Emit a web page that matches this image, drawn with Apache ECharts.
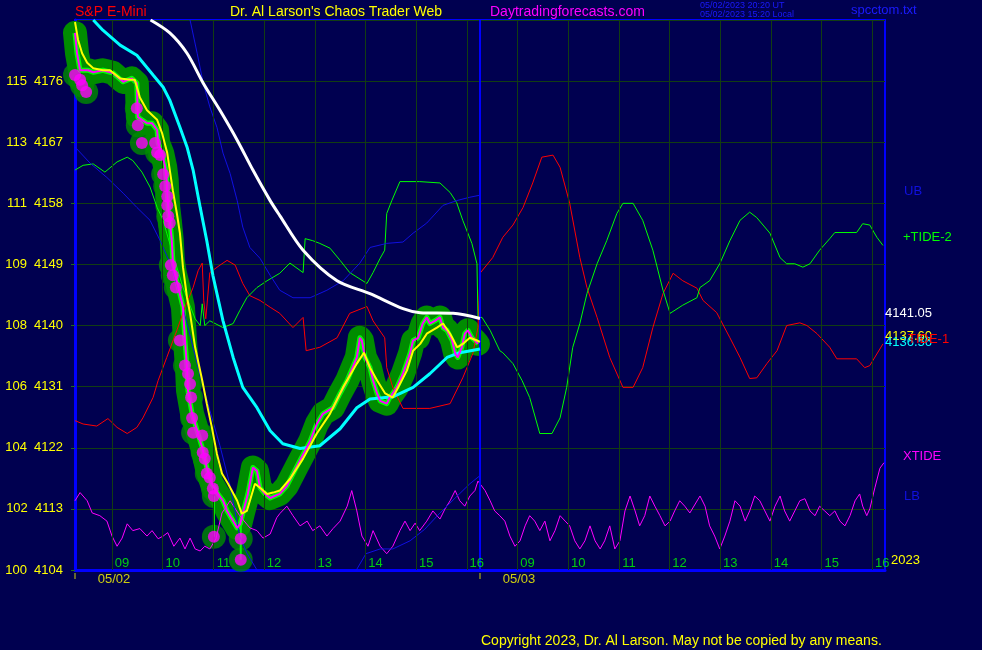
<!DOCTYPE html>
<html><head><meta charset="utf-8">
<script src="https://cdn.jsdelivr.net/npm/echarts@6/dist/echarts.min.js"></script>
<style>html,body{margin:0;padding:0;background:#000050;}#c{width:982px;height:650px;}</style>
</head><body><div id="c"></div>
<script>
// ---- axis data ----
const hourTicks = [9,10,11,12,13,14,15,16,17,18,19,20,21,22,23,24];
const hourLabels = ['09','10','11','12','13','14','15','16','09','10','11','12','13','14','15','16'];
const dayStarts = [8.27, 16.26];
const dayLabels = ['05/02','05/03'];
const priceMin = 4104, priceMax = 4185, priceStep = 9;
const leftScale = [100,102,104,106,108,109,111,113,115];

// ---- series data: [decimal hour, price] ----
const whiteMA = [[9.76,4185.0],[10.14,4183.1],[10.48,4180.1],[10.80,4175.7],[11.13,4171.7],[11.47,4167.3],[11.78,4162.9],[12.12,4158.4],[12.31,4156.2],[12.77,4151.1],[13.44,4146.6],[14.09,4144.7],[14.74,4142.5],[15.08,4141.9],[15.73,4141.8],[16.26,4141.05]];
const cyanMA = [[8.63,4185.0],[8.82,4183.5],[9.16,4181.3],[9.49,4179.8],[9.81,4176.9],[10.01,4175.1],[10.14,4173.2],[10.34,4169.2],[10.48,4166.3],[10.60,4162.9],[10.74,4157.4],[10.87,4152.5],[10.99,4147.4],[11.19,4140.7],[11.39,4135.3],[11.58,4130.9],[11.86,4127.9],[12.12,4124.5],[12.37,4122.6],[12.71,4121.9],[13.10,4122.3],[13.50,4124.8],[13.83,4127.9],[14.09,4129.2],[14.54,4129.5],[14.94,4130.9],[15.27,4132.9],[15.61,4135.3],[15.86,4136.0],[16.26,4136.56]];
const yellowMA = [[8.27,4184.7],[8.33,4182.1],[8.41,4180.1],[8.51,4178.7],[8.63,4177.9],[8.82,4177.6],[8.96,4177.6],[9.16,4176.4],[9.36,4176.2],[9.45,4176.2],[9.55,4173.6],[9.69,4171.7],[9.89,4170.3],[9.99,4168.3],[10.09,4165.4],[10.14,4162.9],[10.20,4159.9],[10.28,4156.5],[10.34,4153.6],[10.40,4148.6],[10.48,4144.1],[10.54,4141.8],[10.64,4136.8],[10.78,4131.9],[10.87,4128.5],[10.97,4125.0],[11.07,4121.1],[11.17,4118.2],[11.29,4116.7],[11.47,4114.2],[11.56,4112.3],[11.66,4112.7],[11.76,4115.2],[11.82,4116.7],[11.92,4116.1],[12.06,4115.2],[12.18,4115.4],[12.31,4115.7],[12.51,4117.4],[12.77,4120.4],[13.04,4124.1],[13.30,4127.0],[13.56,4130.9],[13.83,4134.4],[13.97,4136.0],[14.09,4133.8],[14.23,4131.9],[14.39,4130.0],[14.54,4129.4],[14.68,4131.4],[14.82,4133.4],[14.94,4136.3],[15.08,4137.3],[15.21,4138.8],[15.41,4139.7],[15.53,4140.3],[15.67,4138.8],[15.81,4136.8],[15.92,4137.3],[16.06,4138.2],[16.20,4137.8],[16.26,4137.6]];
const priceLine = [[8.27,4183.1],[8.31,4180.1],[8.37,4177.6],[8.53,4177.6],[8.63,4177.3],[8.82,4177.6],[9.02,4177.2],[9.22,4175.9],[9.39,4176.4],[9.49,4175.7],[9.50,4173.2],[9.51,4170.7],[9.69,4169.8],[9.79,4169.8],[9.89,4168.8],[9.91,4166.9],[9.99,4165.4],[10.05,4163.3],[10.08,4161.4],[10.09,4159.5],[10.11,4157.4],[10.14,4155.5],[10.18,4152.5],[10.20,4149.6],[10.24,4147.7],[10.30,4145.9],[10.40,4142.7],[10.44,4137.8],[10.48,4133.8],[10.50,4130.4],[10.58,4127.0],[10.68,4124.5],[10.78,4122.0],[10.87,4119.1],[10.97,4116.7],[11.09,4115.2],[11.19,4114.2],[11.27,4112.7],[11.39,4111.2],[11.47,4110.2],[11.53,4110.8],[11.58,4112.3],[11.68,4115.2],[11.78,4119.1],[11.86,4118.6],[11.92,4116.1],[12.02,4115.2],[12.12,4114.6],[12.31,4115.2],[12.45,4116.4],[12.65,4119.3],[12.91,4123.0],[13.04,4125.5],[13.16,4127.0],[13.36,4127.9],[13.50,4130.0],[13.64,4131.9],[13.83,4135.3],[13.89,4138.2],[13.93,4137.8],[13.99,4135.3],[14.09,4133.8],[14.15,4131.9],[14.23,4130.0],[14.29,4128.9],[14.42,4128.5],[14.48,4129.4],[14.62,4130.9],[14.74,4132.9],[14.88,4135.9],[14.94,4137.8],[15.04,4138.2],[15.13,4140.3],[15.21,4141.2],[15.27,4140.3],[15.37,4140.7],[15.47,4141.2],[15.53,4139.7],[15.61,4139.3],[15.71,4137.8],[15.77,4135.9],[15.82,4135.3],[15.90,4136.8],[15.96,4138.8],[16.02,4139.3],[16.10,4138.2],[16.16,4137.8],[16.22,4137.3]];
const barRanges = [[11.01,4114.9,4108.9],[11.54,4111.0,4105.5]];
const dots = [[8.27,4176.9],[8.37,4176.2],[8.41,4175.4],[8.49,4174.4],[9.49,4172.0],[9.51,4169.5],[9.59,4166.9],[9.85,4166.9],[9.89,4165.5],[9.95,4165.1],[10.01,4162.3],[10.05,4160.5],[10.09,4159.0],[10.09,4157.7],[10.11,4156.1],[10.14,4155.1],[10.16,4148.9],[10.20,4147.4],[10.26,4145.6],[10.34,4137.8],[10.44,4134.1],[10.50,4132.9],[10.54,4131.4],[10.56,4129.4],[10.58,4126.4],[10.60,4124.2],[10.78,4123.8],[10.79,4121.3],[10.83,4120.4],[10.87,4118.2],[10.93,4117.6],[10.99,4116.0],[11.01,4114.9],[11.01,4108.9],[11.54,4108.6],[11.54,4105.5]];
const upperBand = [[10.54,4185.0],[10.68,4180.1],[10.80,4175.7],[10.93,4172.2],[11.07,4169.2],[11.19,4165.4],[11.33,4162.4],[11.47,4158.4],[11.58,4154.5],[11.72,4151.5],[11.92,4149.9],[12.12,4147.4],[12.31,4145.2],[12.57,4144.1],[12.91,4144.1],[13.24,4145.2],[13.56,4146.6],[13.89,4149.2],[14.09,4151.5],[14.42,4152.1],[14.74,4152.3],[14.94,4153.6],[15.21,4155.1],[15.53,4157.7],[15.80,4158.4],[16.06,4158.9],[16.26,4159.2]];
const lowerBand = [[8.27,4166.3],[8.57,4163.9],[8.90,4161.8],[9.22,4159.5],[9.49,4157.4],[9.75,4155.5],[9.95,4152.5],[10.14,4149.3],[10.34,4144.4],[10.54,4138.5],[10.74,4132.6],[10.93,4127.5],[11.13,4122.3],[11.33,4116.4],[11.52,4109.0],[11.66,4106.5],[11.86,4104.0],[12.71,4099.4],[13.50,4100.0],[13.75,4103.1],[14.01,4106.4],[14.29,4107.1],[14.54,4107.1],[14.88,4108.3],[15.17,4110.0],[15.47,4112.4],[15.77,4114.6],[16.06,4116.7],[16.26,4117.9]];
const tide1 = [[8.27,4126.0],[8.43,4125.5],[8.70,4125.2],[8.92,4126.3],[9.10,4125.0],[9.30,4124.1],[9.49,4125.0],[9.61,4126.4],[9.81,4129.4],[9.91,4131.9],[10.08,4135.3],[10.28,4139.3],[10.44,4142.7],[10.60,4145.6],[10.70,4148.1],[10.78,4149.2],[10.81,4143.7],[10.85,4141.0],[10.93,4147.8],[11.13,4148.9],[11.27,4149.6],[11.43,4148.9],[11.58,4146.2],[11.72,4144.4],[11.92,4143.7],[12.12,4142.7],[12.31,4141.8],[12.57,4139.7],[12.77,4141.2],[12.83,4136.3],[13.10,4136.8],[13.44,4138.2],[13.69,4141.8],[14.03,4142.8],[14.15,4140.7],[14.38,4138.2],[14.42,4133.8],[14.54,4130.9],[14.74,4127.8],[15.27,4127.8],[15.67,4128.5],[15.92,4132.3],[16.12,4135.9],[16.22,4139.7],[16.24,4143.7],[16.26,4147.7],[16.51,4150.0],[16.71,4153.0],[16.91,4154.8],[17.11,4157.4],[17.30,4161.0],[17.48,4164.8],[17.70,4165.1],[17.84,4163.3],[18.03,4158.0],[18.23,4150.0],[18.37,4145.6],[18.57,4141.2],[18.82,4135.3],[19.08,4130.9],[19.28,4130.9],[19.47,4133.8],[19.67,4139.7],[19.87,4144.7],[20.07,4147.7],[20.26,4146.6],[20.54,4145.5],[20.66,4143.7],[20.93,4141.9],[21.19,4138.2],[21.39,4135.3],[21.58,4132.2],[21.72,4132.3],[21.92,4134.4],[22.12,4136.3],[22.31,4140.0],[22.57,4140.4],[22.71,4140.0],[22.91,4138.8],[23.16,4136.8],[23.30,4135.1],[23.69,4135.1],[23.85,4133.8],[23.95,4134.1],[24.21,4137.3]];
const tide2 = [[8.27,4162.9],[8.43,4163.6],[8.63,4163.8],[8.86,4162.6],[9.10,4164.1],[9.30,4164.8],[9.41,4164.3],[9.59,4162.6],[9.75,4160.4],[9.89,4157.4],[10.01,4155.5],[10.08,4153.6],[10.24,4149.6],[10.40,4145.6],[10.64,4141.0],[10.74,4140.0],[10.78,4143.2],[10.83,4140.0],[10.93,4140.7],[11.19,4139.7],[11.39,4140.3],[11.52,4142.2],[11.66,4144.1],[11.86,4145.6],[12.06,4146.6],[12.31,4147.7],[12.51,4149.2],[12.77,4147.8],[12.81,4152.8],[12.96,4152.5],[13.10,4152.1],[13.30,4151.4],[13.50,4149.6],[13.69,4147.8],[14.03,4146.2],[14.15,4147.8],[14.29,4149.9],[14.38,4151.1],[14.42,4156.5],[14.52,4158.4],[14.68,4161.2],[15.07,4161.2],[15.47,4161.0],[15.67,4159.6],[15.80,4158.1],[15.92,4155.5],[16.10,4152.1],[16.20,4149.1],[16.22,4141.2],[16.30,4141.2],[16.46,4139.3],[16.65,4136.3],[16.71,4136.0],[16.91,4134.4],[17.09,4131.9],[17.24,4129.4],[17.44,4124.1],[17.68,4124.1],[17.84,4126.4],[17.97,4130.9],[18.09,4136.8],[18.23,4140.3],[18.37,4144.7],[18.57,4149.1],[18.76,4152.5],[18.96,4156.5],[19.08,4158.0],[19.28,4158.0],[19.47,4155.5],[19.67,4151.1],[19.87,4145.2],[20.01,4141.8],[20.26,4143.0],[20.54,4144.1],[20.60,4145.6],[20.79,4146.6],[20.99,4149.1],[21.19,4152.5],[21.39,4155.5],[21.58,4156.7],[21.72,4155.9],[21.98,4153.6],[22.18,4150.0],[22.31,4149.1],[22.47,4149.1],[22.63,4148.6],[22.77,4149.1],[22.96,4151.1],[23.16,4152.8],[23.26,4153.7],[23.69,4153.7],[23.81,4155.0],[23.95,4154.8],[24.09,4153.0],[24.21,4151.8]];
const xtide = [[8.27,4114.2],[8.37,4115.4],[8.51,4114.2],[8.61,4112.4],[8.76,4112.0],[8.90,4111.2],[9.00,4109.0],[9.10,4107.5],[9.20,4108.7],[9.30,4110.8],[9.41,4109.8],[9.55,4110.1],[9.69,4109.0],[9.79,4109.8],[9.91,4108.6],[10.01,4109.0],[10.10,4109.5],[10.22,4107.5],[10.34,4108.7],[10.44,4107.1],[10.54,4108.7],[10.64,4107.1],[10.74,4106.8],[10.83,4107.5],[10.93,4107.1],[11.05,4108.6],[11.17,4112.4],[11.33,4114.2],[11.52,4112.0],[11.72,4110.2],[11.86,4109.8],[11.98,4108.7],[12.12,4109.3],[12.25,4111.7],[12.31,4112.3],[12.45,4113.4],[12.57,4112.0],[12.71,4110.5],[12.85,4111.2],[12.96,4109.8],[13.10,4110.5],[13.24,4109.0],[13.36,4110.1],[13.50,4111.2],[13.64,4113.4],[13.73,4115.7],[13.83,4112.7],[13.93,4109.0],[14.05,4107.5],[14.15,4109.8],[14.29,4107.5],[14.42,4106.4],[14.54,4107.5],[14.68,4109.8],[14.78,4111.2],[14.88,4109.8],[14.98,4110.9],[15.07,4109.8],[15.21,4111.2],[15.33,4112.7],[15.47,4111.5],[15.57,4113.0],[15.67,4114.2],[15.77,4115.7],[15.86,4114.2],[15.96,4113.4],[16.06,4114.9],[16.16,4115.7],[16.22,4117.1],[16.36,4115.7],[16.46,4114.2],[16.55,4112.7],[16.65,4112.0],[16.75,4111.2],[16.85,4109.0],[16.95,4107.5],[17.05,4108.3],[17.15,4110.5],[17.24,4112.0],[17.34,4111.2],[17.44,4109.8],[17.54,4111.2],[17.64,4108.3],[17.74,4109.8],[17.84,4112.0],[17.94,4111.2],[18.03,4110.5],[18.13,4108.3],[18.23,4107.1],[18.33,4108.3],[18.43,4110.5],[18.53,4108.3],[18.63,4107.1],[18.72,4108.3],[18.82,4110.5],[18.92,4107.1],[19.02,4108.3],[19.12,4112.7],[19.22,4114.9],[19.32,4112.7],[19.41,4110.5],[19.51,4112.0],[19.61,4114.9],[19.71,4113.4],[19.81,4112.0],[19.91,4110.5],[20.01,4111.2],[20.10,4112.7],[20.20,4114.2],[20.30,4113.4],[20.40,4112.4],[20.60,4114.9],[20.70,4113.4],[20.79,4110.5],[20.89,4109.0],[20.99,4107.1],[21.09,4109.0],[21.19,4111.2],[21.29,4114.2],[21.39,4113.4],[21.49,4111.2],[21.58,4112.7],[21.68,4114.9],[21.78,4114.2],[21.88,4112.7],[21.98,4111.2],[22.08,4113.4],[22.18,4114.9],[22.27,4112.7],[22.37,4111.2],[22.47,4112.7],[22.57,4114.2],[22.67,4114.5],[22.77,4112.7],[22.87,4112.0],[22.96,4113.4],[23.06,4112.7],[23.16,4112.0],[23.26,4112.7],[23.36,4111.2],[23.46,4110.5],[23.56,4112.0],[23.66,4114.2],[23.75,4115.2],[23.81,4113.4],[23.89,4112.0],[23.95,4113.0],[24.05,4116.1],[24.15,4119.0],[24.23,4119.8]];

// ---- chart ----
const FONT = '"Liberation Sans", Arial, sans-serif';
const GRID = '#123d12';
const BLUE = '#0000ff';
const stems = [];
barRanges.forEach(r => { stems.push([r[0], r[1]], [r[0], r[2]], [r[0], '-']); });

function txt(text, left, top, fill, size) {
  return {type:'text', left:left, top:top, z:100,
    style:{text:text, fill:fill, font:(size||13)+'px ' + FONT}};
}
function line(data, color, width, z, extra) {
  return Object.assign({type:'line', data:data, showSymbol:false, symbol:'none', silent:true, z:z,
    lineStyle:{color:color, width:width}}, extra || {});
}

const chart = echarts.init(document.getElementById('c'));
chart.setOption({
  backgroundColor:'#000050',
  animation:false,
  grid:{left:75, top:20, width:810, height:550, show:true, borderColor:BLUE, borderWidth:2, backgroundColor:'transparent'},
  xAxis:{type:'value', min:8.27, max:24.25,
    axisLine:{show:true, onZero:false, lineStyle:{color:BLUE, width:3}},
    axisTick:{show:false}, axisLabel:{show:false}, splitLine:{show:false}},
  yAxis:{type:'value', min:priceMin, max:priceMax, interval:priceStep,
    axisLine:{show:true, onZero:false, lineStyle:{color:BLUE, width:3}},
    axisTick:{show:true, length:4, lineStyle:{color:'#1f6a1f'}},
    axisLabel:{color:'#ffff00', fontSize:13, fontFamily:FONT, margin:12, padding:[0,0,8,0], showMaxLabel:false,
      formatter:v => { const i = Math.round((v - priceMin) / priceStep); return leftScale[i] !== undefined ? leftScale[i] + '  ' + v : ''; }},
    splitLine:{show:true, lineStyle:{color:GRID, width:1}}},
  graphic:[
    txt('S&P E-Mini', 75, 5, '#ff0000', 14),
    txt("Dr. Al Larson's Chaos Trader Web", 230, 5, '#ffff00', 14),
    txt('Daytradingforecasts.com', 490, 5, '#ff00ff', 14),
    txt('05/02/2023 20:20 UT', 700, 1, '#1a1aff', 9),
    txt('05/02/2023 15:20 Local', 700, 10, '#1a1aff', 9),
    txt('spcctom.txt', 851, 4, '#1a1aff'),
    txt('UB', 904, 185, '#1010e0'),
    txt('+TIDE-2', 903, 231, '#00ff00'),
    txt('4141.05', 885, 307, '#ffffff'),
    txt('4137.60', 885, 330, '#ffff00'),
    txt('4136.56', 885, 336, '#00ffff'),
    txt('TIDE-1', 908, 333, '#ff0000'),
    txt('XTIDE', 903, 450, '#ff00ff'),
    txt('LB', 904, 490, '#1010e0'),
    txt('2023', 891, 554, '#ffff00'),
    txt('Copyright 2023, Dr. Al Larson. May not be copied by any means.', 481, 634, '#ffff00', 14)
  ],
  series:[
    {type:'line', data:[], z:1, silent:true,
      markLine:{silent:true, symbol:['none','none'], label:{show:false},
        lineStyle:{color:GRID, width:1, type:'solid'},
        data:hourTicks.map(h => ({xAxis:h}))}},
    line(priceLine, '#008c00', 24, 2, {clip:false, lineStyle:{color:'#008c00', width:24, cap:'round', join:'round'}}),
    {type:'scatter', data:dots, symbolSize:24, z:2, silent:true, clip:false, itemStyle:{color:'#008c00'}},
    line(priceLine, '#00ff00', 5, 3, {lineStyle:{color:'#00ff00', width:5, join:'round'}}),
    line(stems, '#00ff00', 2, 3, {connectNulls:false}),
    line(tide1, '#ff0000', 1, 4),
    line(tide2, '#00ff00', 1, 4),
    line(xtide, '#ff00ff', 1, 4),
    line(upperBand, '#1010e0', 1, 4),
    line(lowerBand, '#1010e0', 1, 4),
    line(cyanMA, '#00ffff', 3, 5),
    line(whiteMA, '#ffffff', 3, 5, {smooth:0.3}),
    {type:'line', data:[], z:5, silent:true,
      markLine:{silent:true, symbol:['none','none'], label:{show:false},
        lineStyle:{color:BLUE, width:2, type:'solid'},
        data:[{xAxis:dayStarts[1]}]}},
    line(priceLine, '#ff00ff', 2, 6),
    line(yellowMA, '#ffff00', 2, 7),
    {type:'scatter', data:dots, symbolSize:12, z:8, silent:true, clip:false, itemStyle:{color:'#ff00ff'}},
    {type:'scatter', data:hourTicks.map(h => [h, priceMin]), symbolSize:1, z:9, silent:true, clip:false,
      itemStyle:{color:'transparent'},
      label:{show:true, position:'inside', offset:[10,-7], color:'#00ff00', fontSize:13, fontFamily:FONT,
        formatter:p => hourLabels[p.dataIndex]}},
    {type:'scatter', data:dayStarts.map(d => [d, priceMin]), symbol:'rect', symbolSize:[1,6], symbolOffset:[0,6],
      z:9, silent:true, clip:false, itemStyle:{color:'#ffff00'}},
    {type:'scatter', data:dayStarts.map(d => [d, priceMin]), symbolSize:1, z:9, silent:true, clip:false,
      itemStyle:{color:'transparent'},
      label:{show:true, position:'inside', offset:[39,9], color:'#ffff00', fontSize:13, fontFamily:FONT,
        formatter:p => dayLabels[p.dataIndex]}}
  ]
});
</script>
</body></html>
